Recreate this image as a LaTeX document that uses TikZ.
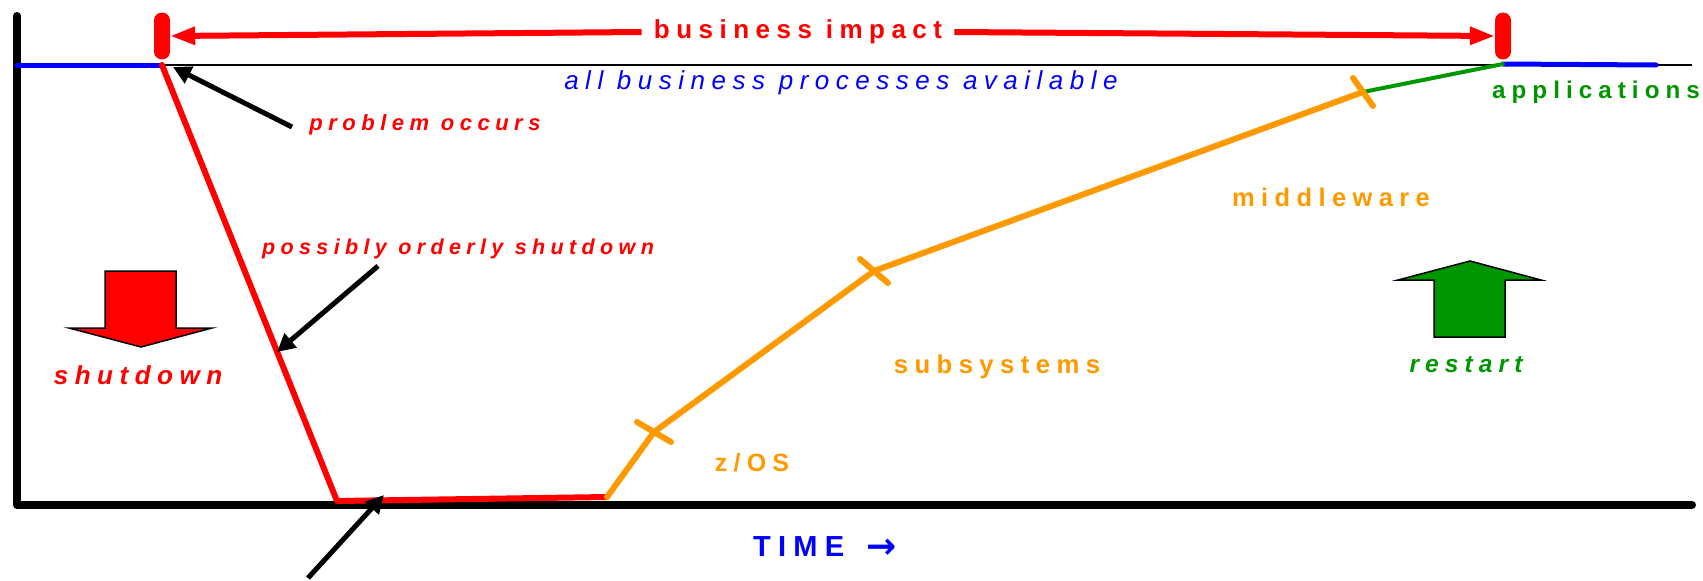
\documentclass[tikz,border=0pt]{standalone}
\usepackage{fontspec}
\setmainfont{Liberation Sans}
\newfontfamily\spaced[LetterSpace=25]{Liberation Sans}
\newfontfamily\arrowfont{DejaVu Sans}
\usetikzlibrary{arrows.meta}
\definecolor{ora}{RGB}{255,153,0}
\definecolor{grn}{RGB}{0,150,0}
\tikzset{node distance=2.5cm, auto}
\tikzset{
  txt/.style={inner sep=0pt, font=\spaced\bfseries\fontsize{#1}{#1}\selectfont},
  itxt/.style={inner sep=0pt, font=\spaced\bfseries\itshape\fontsize{#1}{#1}\selectfont},
  axis/.style={line width=8pt, line cap=round, line join=round},
  bar/.style={fill=red, rounded corners=8pt, minimum width=16pt, minimum height=47pt, inner sep=0pt},
  impact/.style={red, line width=6pt, -{Triangle[length=25pt,width=17pt]}},
  pointer/.style={line width=5pt, -{Triangle[length=18pt,width=18pt]}},
  phase/.style={line width=6pt, line cap=round, line join=round},
  tick/.style={ora, line width=6pt, line cap=round},
  block/.style={draw=black, line width=1.5pt, line join=miter}
}

\begin{document}
\begin{tikzpicture}[x=1pt, y=-1pt]
\useasboundingbox (0,0) rectangle (1703,581);
\coordinate (O) at (17,505);
\coordinate (Y) at (17,16);
\coordinate (X) at (1692,505);
\coordinate (A) at (17,65);
\coordinate (Z) at (1692,65);
\coordinate (B) at (162,65);
\coordinate (C) at (337,501);
\coordinate (D) at (607,497);
\coordinate (T1) at (654,432);
\coordinate (T2) at (874,271);
\coordinate (T3) at (1363,92);
\coordinate (E) at (1503,64);
\coordinate (F) at (1656,65);
\coordinate (s1) at (292,127);
\coordinate (e1) at (173,67);
\coordinate (s2) at (378,266);
\coordinate (e2) at (277,352);
\coordinate (s3) at (308,578);
\coordinate (e3) at (384,495);

\draw[axis] (Y) -- (O) -- (X);
\draw[line width=1.2pt] (A) -- (Z);
\draw[blue, line width=5pt, line cap=round] (A) -- (B);
\draw[blue, line width=5pt, line cap=round] (E) -- (F);

\node[bar] (L) at (162,36) {};
\node[bar] (R) at (1503,36) {};
\node[txt=26, red, inner xsep=12pt] (BI) at (798,32) {business\ impact};
\draw[impact] (BI.west) -- (L.east);
\draw[impact] (BI.east) -- (R.west);

\node[inner sep=0pt, blue, font=\spaced\itshape\fontsize{26}{26}\selectfont] (AB) at (841,83) {all business processes available};

\draw[phase, red] (B) -- (C) -- (D);
\draw[phase, ora] (D) -- (T1) -- (T2) -- (T3);
\draw[grn, line width=4pt, line cap=round] (T3) -- (E);
\foreach \p/\dx/\dy in {T1/17/10, T2/14/12, T3/10/14}
  \draw[tick] (\p) ++(-\dx,-\dy) -- ++(2*\dx,2*\dy);

\node[itxt=22, red] (PO) at (425,125) {problem occurs};
\node[itxt=21.5, red] (PS) at (458,249) {possibly orderly shutdown};
\draw[pointer] (s1) -- (e1);
\draw[pointer] (s2) -- (e2);
\draw[pointer] (s3) -- (e3);

\draw[block, fill=red] (105,271) -- (176,271) -- (176,328) -- (212,328) -- (141,347) -- (69,328) -- (105,328) -- cycle;
\node[itxt=26, red] (SD) at (138,375) {shutdown};
\draw[block, fill=grn] (1434,337) -- (1505,337) -- (1505,280) -- (1541,280) -- (1470,261) -- (1398,280) -- (1434,280) -- cycle;
\node[itxt=24.5, grn] (RS) at (1466,365) {restart};

\node[txt=25, ora] (ZO) at (752,463) {z/OS};
\node[txt=25.7, ora] (SS) at (997,367) {subsystems};
\node[txt=25.5, ora] (MW) at (1331,197) {middleware};
\node[txt=24.2, grn] (AP) at (1596,92) {applications};
\node[txt=29, blue, anchor=west] (TM) at (753,547) {TIME};
\node[blue, inner sep=0pt, font=\arrowfont\bfseries\fontsize{36}{36}\selectfont] (TA) at (882,549) {→};
\end{tikzpicture}
\end{document}
